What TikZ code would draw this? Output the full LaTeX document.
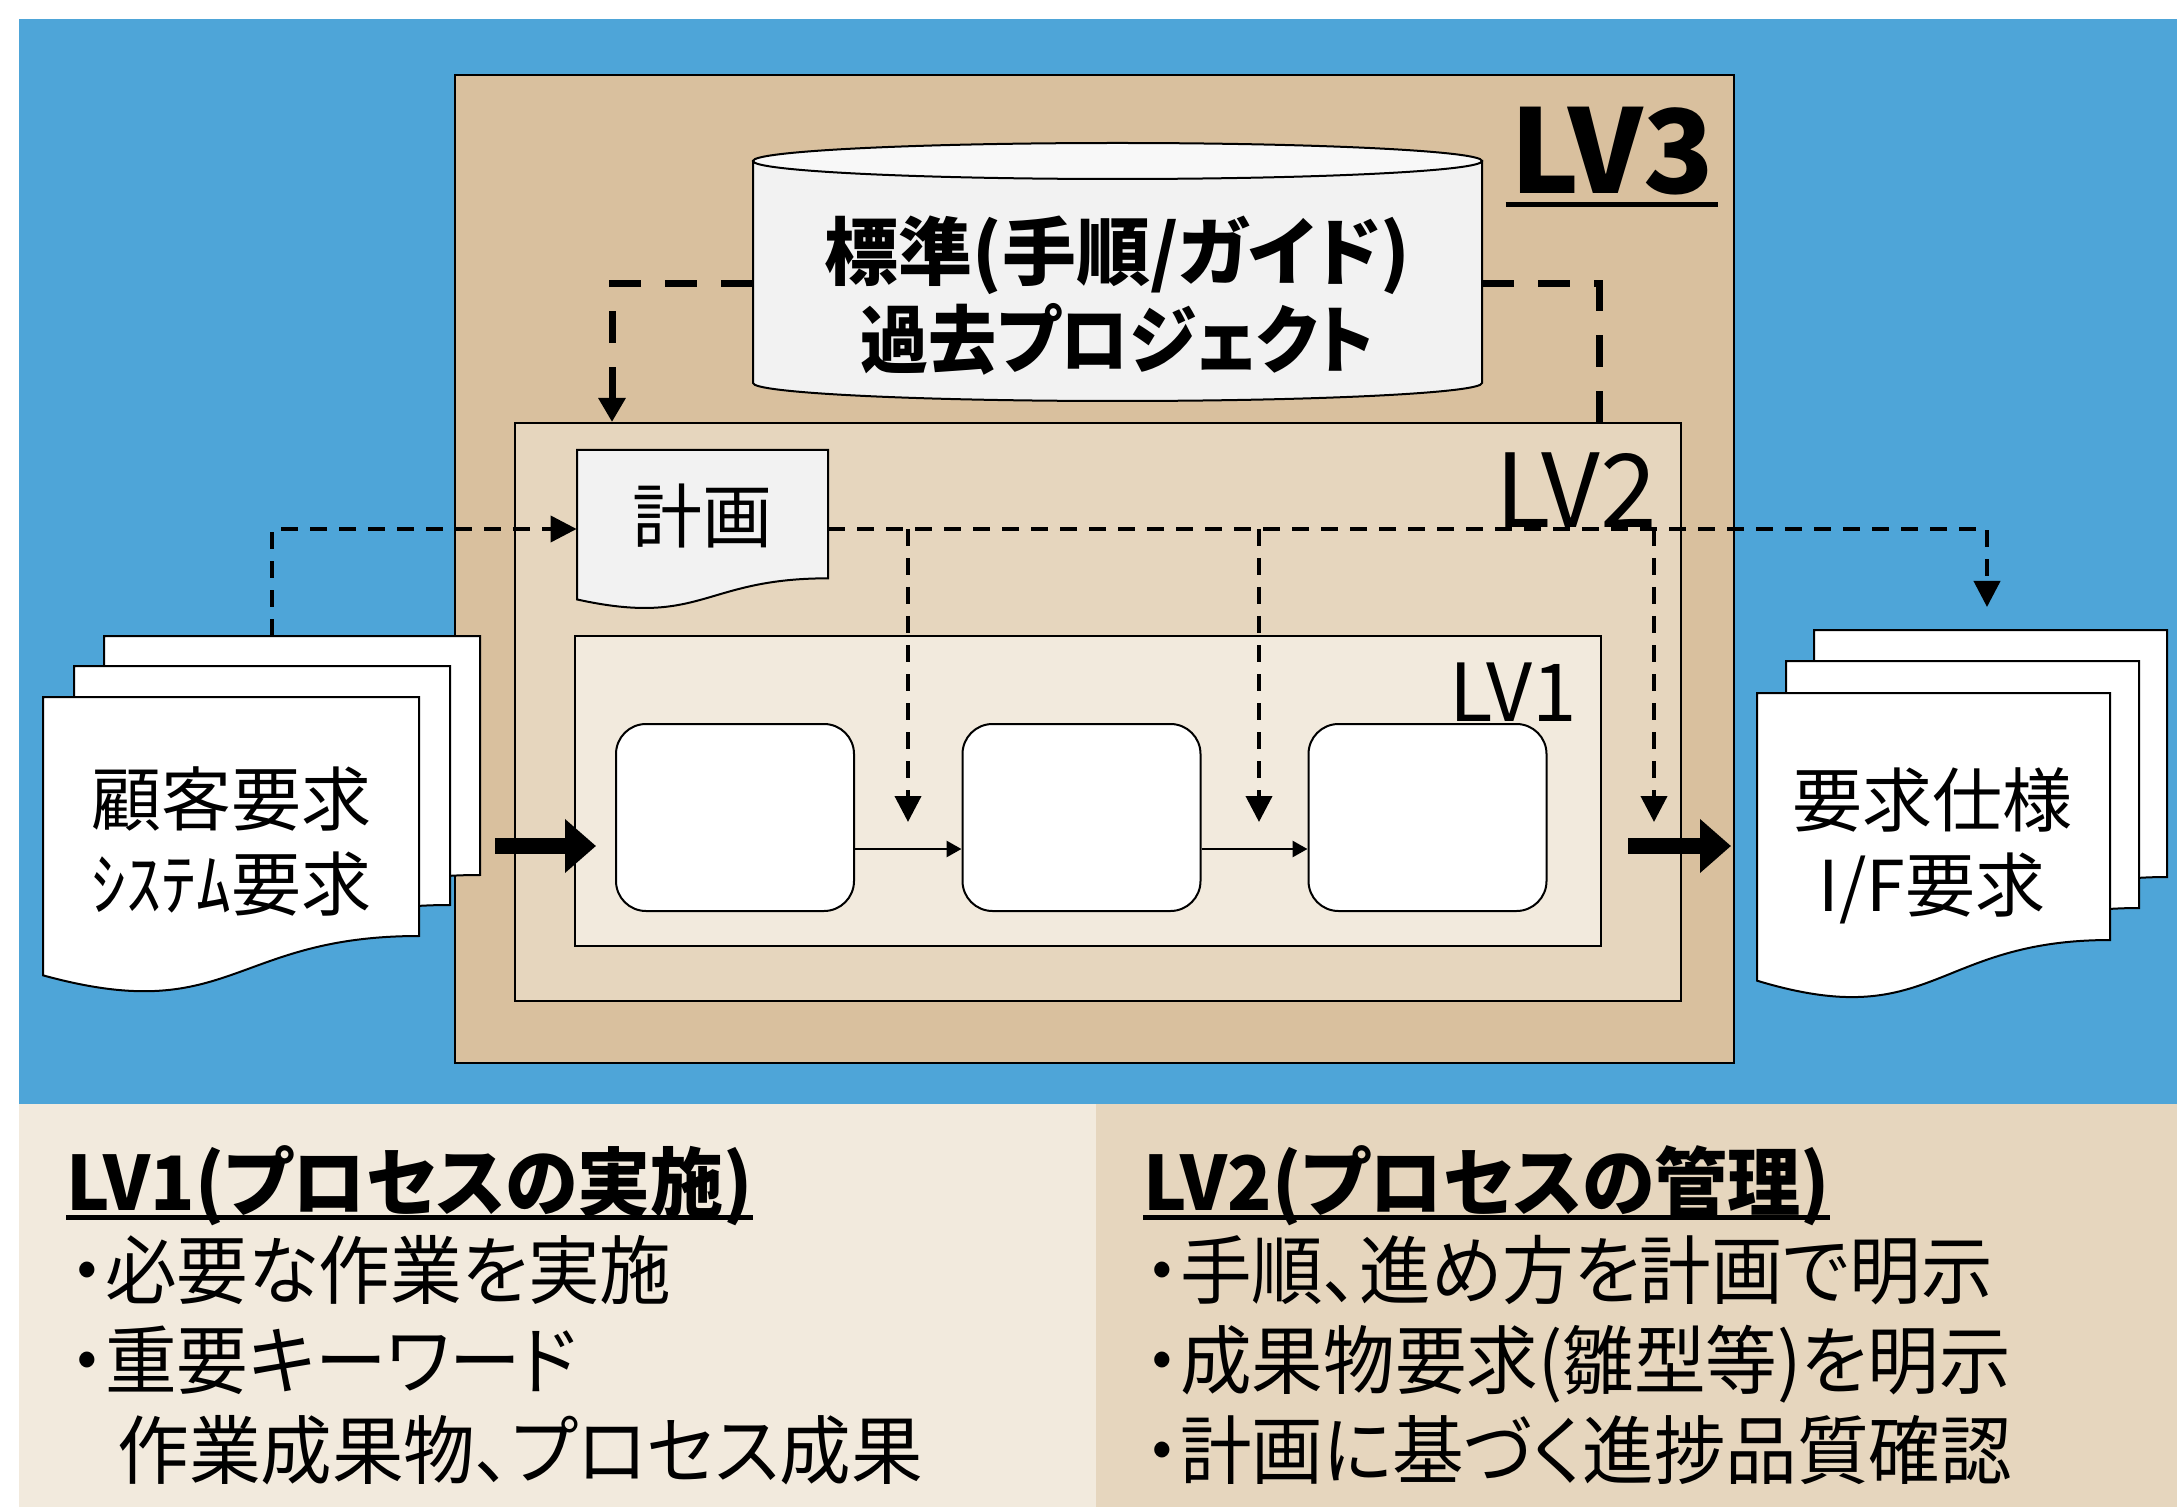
\documentclass[tikz,border=0pt]{standalone}
\usepackage{fontspec}
\setmainfont{Noto Sans CJK JP}[RawFeature=+palt]
\newfontfamily\notefont{Noto Sans CJK JP}[RawFeature=+palt, FakeStretch=0.955]
\newfontfamily\headfont{Noto Sans CJK JP}[RawFeature=+palt, FakeStretch=0.975]
\newfontfamily\narrowfont{Noto Sans CJK JP}[RawFeature=+palt, FakeStretch=0.92]
\usetikzlibrary{arrows.meta}

\definecolor{bgblue}{HTML}{4EA5D8}
\definecolor{lvthree}{HTML}{D9C09E}
\definecolor{lvtwo}{HTML}{E6D6BE}
\definecolor{lvone}{HTML}{F2EADD}
\definecolor{sheet}{HTML}{F2F2F2}
\definecolor{sheettop}{HTML}{F8F8F8}

% one page of a document symbol: x, y, width, height, fill
\newcommand{\docsheet}[5]{%
  \draw[line width=1pt, fill=#5] (#1,#2) -- (#1+#3,#2) -- (#1+#3,#2+0.802*#4)
    .. controls (#1+0.5*#3,#2+0.802*#4) and (#1+0.5*#3,#2+1.1075*#4) .. (#1,#2+0.934*#4) -- cycle;}

\begin{document}
\begin{tikzpicture}[x=0.5pt, y=-0.5pt,
    box/.style={draw, line width=1pt, inner sep=0pt},
    proc/.style={box, fill=white, rounded corners=15pt, minimum width=119pt, minimum height=93.5pt},
    thindash/.style={line width=2pt, dash pattern=on 8.3pt off 6.2pt, -{Triangle[length=13pt,width=13pt]}},
    bigdash/.style={line width=3.5pt, dash pattern=on 16pt off 12pt},
    flow/.style={line width=1.4pt, -{Triangle[length=7.5pt,width=8pt]}},
    fat/.style={line width=8pt, -{Triangle[length=15.5pt,width=26pt]}},
    doctext/.style={inner sep=0pt, align=center, font=\fontsize{35}{42.5}\selectfont},
    body/.style={anchor=base west, inner sep=0pt, font=\notefont\fontsize{37.5}{45}\selectfont},
    head/.style={anchor=base west, inner sep=0pt, font=\headfont\bfseries\fontsize{37.5}{45}\selectfont}]

  \useasboundingbox (0,0) rectangle (2177,1507);
  \fill[white] (0,0) rectangle (2177,1507);
  \fill[bgblue] (19,19) rectangle (2177,1104);
  \fill[lvone] (19,1104) rectangle (1096,1507);
  \fill[lvtwo] (1096,1104) rectangle (2177,1507);

  % levels
  \node[box, fill=lvthree, minimum width=639.5pt, minimum height=494pt] (lv3) at (1094.5,569) {};
  \node[box, fill=lvtwo, minimum width=583pt, minimum height=289pt] (lv2) at (1098,712) {};
  \node[box, fill=lvone, minimum width=513pt, minimum height=155pt] (lv1) at (1088,791) {};

  \node[inner sep=0pt, anchor=base, font=\bfseries\fontsize{58}{62}\selectfont] (lab3) at (1612,194) {LV3};
  \draw[line width=2.5pt] ([xshift=-2pt,yshift=-5.5pt]lab3.base west) -- ([xshift=2pt,yshift=-5.5pt]lab3.base east);
  \node[inner sep=0pt, anchor=base, font=\fontsize{51}{56}\selectfont] (lab2) at (1576,528) {LV2};
  \node[inner sep=0pt, anchor=base, font=\fontsize{40}{44}\selectfont] (lab1) at (1513,721) {LV1};

  % standards database
  \draw[line width=1pt, fill=sheet] (753,161) -- (753,383)
    arc[start angle=180, end angle=0, x radius=364.5, y radius=18] -- (1482,161) -- cycle;
  \draw[line width=1pt, fill=sheettop] (1117.5,161) ellipse [x radius=364.5, y radius=18];
  \node[inner sep=0pt, minimum width=364.5pt, align=center, font=\bfseries\fontsize{37}{44}\selectfont] (db) at (1117.5,296) {標準(手順/ガイド)\\{\narrowfont 過去プロジェクト}};

  % documents
  \docsheet{577}{450}{251}{160}{sheet}
  \node[doctext, minimum width=125.5pt] (plan) at (702.5,516) {計画};

  \docsheet{104}{636}{376}{298}{white}
  \docsheet{74}{666}{376}{298}{white}
  \docsheet{43}{697}{376}{298}{white}
  \node[doctext] (req) at (231,841) {顧客要求\\ｼｽﾃﾑ要求};

  \docsheet{1814}{630}{353}{308}{white}
  \docsheet{1786}{661}{353}{308}{white}
  \docsheet{1757}{693}{353}{308}{white}
  \node[doctext] (spec) at (1932,846) {要求仕様\\I/F要求};

  % process steps
  \node[proc] (p1) at (735,817.5) {};
  \node[proc] (p2) at (1081.5,817.5) {};
  \node[proc] (p3) at (1427.5,817.5) {};

  \draw[flow] ([yshift=-15.75pt]p1.east) -- ([yshift=-15.75pt]p2.west);
  \draw[flow] ([yshift=-15.75pt]p2.east) -- ([yshift=-15.75pt]p3.west);

  \coordinate (fatA) at (495,846);
  \coordinate (fatB) at (596,846);
  \coordinate (fatC) at (1628,846);
  \coordinate (fatD) at (1731,846);
  \draw[fat] (fatA) -- (fatB);
  \draw[fat] (fatC) -- (fatD);

  % plan lines
  \coordinate (reqTop) at (272,636);
  \coordinate (specTop) at (1987,607);
  \coordinate (planOut) at ([yshift=-6.5pt]plan.east);
  \coordinate (tip1) at (908,822);
  \coordinate (tip2) at (1259,822);
  \coordinate (tip3) at (1654,822);
  \draw[thindash] (reqTop) |- ([yshift=-6.5pt]plan.west);
  \draw[thindash] (planOut) -| (specTop);
  \draw[thindash] (tip1 |- planOut) -- (tip1);
  \draw[thindash] (tip2 |- planOut) -- (tip2);
  \draw[thindash] (tip3 |- planOut) -- (tip3);

  % standards to LV2
  \draw[bigdash, -{Triangle[length=12pt,width=13pt]}] ([yshift=6pt]db.west) -| ([xshift=-243pt]lv2.north);
  \draw[bigdash] ([yshift=6pt]db.east) -| ([xshift=250.5pt]lv2.north);

  % notes
  \node[head] (h1) at (66,1210) {LV1(プロセスの実施)};
  \draw[line width=2.5pt] ([yshift=-3.5pt]h1.base west) -- ([yshift=-3.5pt]h1.base east);
  \node[body] (a1) at (69,1298) {・必要な作業を実施};
  \node[body] (a2) at (69,1388) {・重要キーワード};
  \node[body] (a3) at (117,1478) {作業成果物、プロセス成果};

  \node[head] (h2) at (1143,1210) {LV2(プロセスの管理)};
  \draw[line width=2.5pt] ([yshift=-3.5pt]h2.base west) -- ([yshift=-3.5pt]h2.base east);
  \node[body] (b1) at (1144,1298) {・手順、進め方を計画で明示};
  \node[body] (b2) at (1144,1388) {・成果物要求(雛型等)を明示};
  \node[body] (b3) at (1144,1478) {・計画に基づく進捗品質確認};
\end{tikzpicture}
\end{document}
